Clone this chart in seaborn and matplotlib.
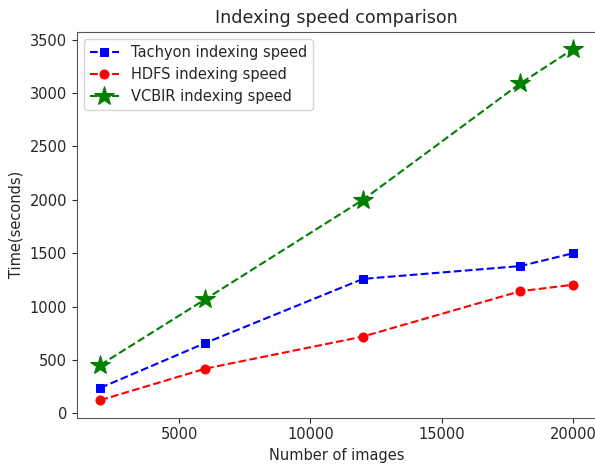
import matplotlib
matplotlib.use("Agg")
import matplotlib.pyplot as plt
import seaborn as sns
import pandas as pd

num_images = [2000, 6000, 12000, 18000, 20000]
tachyon = [240, 660, 1260, 1380, 1500]
hdfs = [125, 420, 720, 1145, 1205]
vcbir = [455, 1070, 2000, 3090, 3410]

series = [
    ("Tachyon indexing speed", tachyon, "b", "s", 6),
    ("HDFS indexing speed", hdfs, "r", "o", 6.5),
    ("VCBIR indexing speed", vcbir, "g", "*", 15),
]

sns.set_style("ticks")
plt.rcParams["font.family"] = ["DejaVu Sans"]
plt.rcParams["font.size"] = 10.5

fig = plt.figure(figsize=(5.95, 4.68), dpi=100)
ax = fig.add_axes([0.129, 0.1075, 0.8735, 0.8248])

for name, vals, color, marker, ms in series:
    df = pd.DataFrame({"x": num_images, "y": vals})
    sns.lineplot(data=df, x="x", y="y", ax=ax, color=color, marker=marker,
                 markersize=ms, linestyle="--", markeredgecolor=color,
                 markerfacecolor=color, label=name)

ax.set_title("Indexing speed comparison", fontsize=12.6)
ax.set_xlabel("Number of images", fontsize=10.5)
ax.set_ylabel("Time(seconds)", fontsize=10.5)
ax.set_xticks([5000, 10000, 15000, 20000])
ax.set_yticks([0, 500, 1000, 1500, 2000, 2500, 3000, 3500])
ax.tick_params(labelsize=10.5)
ax.legend(loc="upper left", fontsize=10.5)
for s in ax.spines.values():
    s.set_color("#555555")

fig.savefig("out.png", dpi=100)
